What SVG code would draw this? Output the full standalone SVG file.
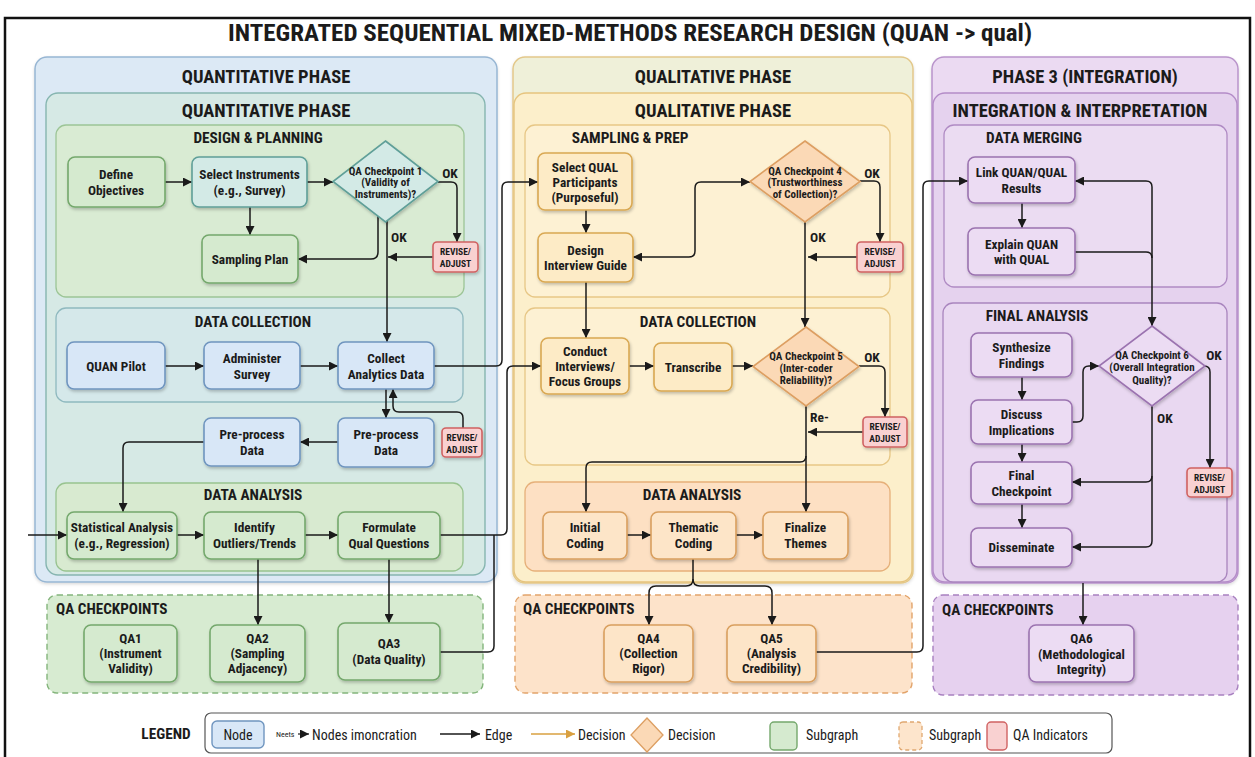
<svg xmlns="http://www.w3.org/2000/svg" width="1255" height="757" viewBox="0 0 1255 757">
  <defs>
    <style>
      .t { font-family: "Roboto Condensed", "Liberation Sans Narrow", "Arial Narrow", "DejaVu Sans Condensed", Roboto, sans-serif; font-stretch: condensed; font-weight: 700; fill: #1b1b1b; text-anchor: middle; dominant-baseline: central; }
      .lg { font-weight: 400; text-anchor: start; font-size: 14px; }
      .h0 { font-size: 23px; }
      .h1 { font-size: 18.5px; }
      .h2 { font-size: 15.3px; }
      .qa { font-size: 15.2px; text-anchor: start; }
      .n { font-size: 13.3px; }
      .d { font-size: 11px; }
      .rv { font-size: 9.5px; }
      .ok { font-size: 13.5px; }
      .okl { font-size: 13.5px; text-anchor: start; }
      .box { stroke-width: 1.6; filter: url(#sh); }
      .grp { stroke-width: 1.3; }
      .dash { stroke-dasharray: 6 4; stroke-width: 1.4; }
      .blue { fill: #d8e7f7; stroke: #6f95bf; }
      .green { fill: #d5eacf; stroke: #74a86c; }
      .teal { fill: #d3eae6; stroke: #5f9f98; }
      .yellow { fill: #fdebc6; stroke: #d9a852; }
      .peach { fill: #fde5c8; stroke: #d99f5e; }
      .orange { fill: #fbd9b6; stroke: #dd9f62; }
      .purple { fill: #ecdcf3; stroke: #9b73b0; }
      .red { fill: #f9d1d1; stroke: #d06262; }
      .edges path { fill: none; stroke: #1a1a1a; stroke-width: 1.5; stroke-linejoin: round; }
      .edges .a { marker-end: url(#ah); }
    </style>
    <marker id="ah" viewBox="0 0 10 10" refX="10" refY="5" markerWidth="9" markerHeight="9" markerUnits="userSpaceOnUse" orient="auto-start-reverse">
      <path d="M0,0 L10,5 L0,10 z" fill="#1a1a1a"/>
    </marker>
    <marker id="aho" viewBox="0 0 10 10" refX="10" refY="5" markerWidth="9" markerHeight="9" markerUnits="userSpaceOnUse" orient="auto">
      <path d="M0,0 L10,5 L0,10 z" fill="#d9a040"/>
    </marker>
    <filter id="sh" x="-15%" y="-15%" width="135%" height="145%">
      <feDropShadow dx="1" dy="2" stdDeviation="1.4" flood-color="#000" flood-opacity="0.22"/>
    </filter>
    <filter id="shg" x="-5%" y="-5%" width="110%" height="110%">
      <feDropShadow dx="0" dy="1.5" stdDeviation="1.5" flood-color="#000" flood-opacity="0.15"/>
    </filter>
  </defs>

  <rect width="1255" height="757" fill="#ffffff"/>
  <!-- page frame -->
  <path d="M5,757 V18 H1250 V757" fill="none" stroke="#111" stroke-width="2.5"/>

  <text class="t h0" x="630" y="33" textLength="804" lengthAdjust="spacingAndGlyphs">INTEGRATED SEQUENTIAL MIXED-METHODS RESEARCH DESIGN (QUAN -&gt; qual)</text>

  <!-- ===== containers ===== -->
  <g id="quant-phase">
    <rect x="35" y="57" width="462" height="525" rx="12" fill="#dce9f5" stroke="#97b6d3" stroke-width="1.5" filter="url(#shg)"/>
    <text class="t h1" x="266" y="77">QUANTITATIVE PHASE</text>
    <rect x="46" y="93" width="439" height="482" rx="12" fill="#d6e9e5" stroke="#86b5b0" stroke-width="1.4"/>
    <text class="t h1" x="266" y="111">QUANTITATIVE PHASE</text>
    <rect x="56" y="125" width="408" height="172" rx="10" fill="#d9ebd3" stroke="#9cc596" class="grp"/>
    <text class="t h2" x="258" y="138">DESIGN &amp; PLANNING</text>
    <rect x="56" y="308" width="407" height="94" rx="10" fill="#d5e8ea" stroke="#8fb9bf" class="grp"/>
    <text class="t h2" x="253" y="322">DATA COLLECTION</text>
    <rect x="56" y="483" width="407" height="88" rx="10" fill="#d8ead0" stroke="#98c38f" class="grp"/>
    <text class="t h2" x="253" y="495">DATA ANALYSIS</text>
  </g>
  <g id="quant-qa">
    <rect x="47" y="595" width="436" height="98" rx="10" fill="#d7ebd1" stroke="#84b57c" class="dash"/>
    <text class="t qa" x="56" y="609">QA CHECKPOINTS</text>
  </g>

  <g id="qual-phase">
    <rect x="513" y="57" width="400" height="526" rx="12" fill="#eff0d9" stroke="#e3c88a" stroke-width="1.5" filter="url(#shg)"/>
    <text class="t h1" x="713" y="77">QUALITATIVE PHASE</text>
    <rect x="514" y="93" width="398" height="489" rx="12" fill="#fcefcb" stroke="#e6c47e" stroke-width="1.4"/>
    <text class="t h1" x="713" y="111">QUALITATIVE PHASE</text>
    <rect x="525" y="125" width="365" height="172" rx="10" fill="#fdf1d3" stroke="#e7c786" class="grp"/>
    <text class="t h2" x="630" y="138">SAMPLING &amp; PREP</text>
    <rect x="525" y="308" width="365" height="157" rx="10" fill="#fdf1d3" stroke="#e7c786" class="grp"/>
    <text class="t h2" x="698" y="322">DATA COLLECTION</text>
    <rect x="525" y="482" width="365" height="89" rx="10" fill="#fde0c3" stroke="#e6b07a" class="grp"/>
    <text class="t h2" x="692" y="495">DATA ANALYSIS</text>
  </g>
  <g id="qual-qa">
    <rect x="515" y="595" width="397" height="98" rx="10" fill="#fde3ca" stroke="#e2a46b" class="dash"/>
    <text class="t qa" x="523" y="609">QA CHECKPOINTS</text>
  </g>

  <g id="integration-phase">
    <rect x="932" y="57" width="306" height="526" rx="12" fill="#ebdaf2" stroke="#b994cb" stroke-width="1.5" filter="url(#shg)"/>
    <text class="t h1" x="1085" y="77">PHASE 3 (INTEGRATION)</text>
    <rect x="933" y="93" width="304" height="489" rx="12" fill="#e5d2ee" stroke="#b48cc8" stroke-width="1.4"/>
    <text class="t h1" x="1080" y="111">INTEGRATION &amp; INTERPRETATION</text>
    <rect x="944" y="125" width="283" height="162" rx="10" fill="#ebdcf2" stroke="#b08bc4" class="grp"/>
    <text class="t h2" x="1034" y="138">DATA MERGING</text>
    <rect x="943" y="303" width="284" height="279" rx="10" fill="#e9d8f1" stroke="#a985be" class="grp"/>
    <text class="t h2" x="1037" y="316">FINAL ANALYSIS</text>
  </g>
  <g id="integration-qa">
    <rect x="933" y="595" width="305" height="100" rx="10" fill="#e6d1ef" stroke="#a880c0" class="dash"/>
    <text class="t qa" x="942" y="610">QA CHECKPOINTS</text>
  </g>

  <!-- ===== connectors ===== -->
  <g id="connectors" class="edges">
    <!-- quantitative -->
    <path class="a" d="M165,182 H192"/>
    <path class="a" d="M307,182 H333"/>
    <path class="a" d="M250,207 V235"/>
    <path class="a" d="M438,182 H451 Q457,182 457,188 V242"/>
    <path class="a" d="M433,257 H388"/>
    <path class="a" d="M378,216 V252 Q378,259 371,259 H298"/>
    <path class="a" d="M387,221 V342"/>
    <path class="a" d="M165,366 H204"/>
    <path class="a" d="M300,366 H338"/>
    <path class="a" d="M386,389 V418"/>
    <path class="a" d="M463,428 V418 Q463,412 457,412 H399 Q393,412 393,406 V389"/>
    <path class="a" d="M338,442 H300"/>
    <path class="a" d="M204,442 H129 Q123,442 123,448 V512"/>
    <path class="a" d="M28,535 H67"/>
    <path class="a" d="M177,535 H204"/>
    <path class="a" d="M305,535 H338"/>
    <path class="a" d="M258,559 V625"/>
    <path class="a" d="M389,559 V623"/>
    <path class="a" d="M440,535 H501 Q507,535 507,529 V372 Q507,366 513,366 H541"/>
    <path d="M440,652 H488 Q494,652 494,646 V535"/>
    <path class="a" d="M434,366 H496 Q502,366 502,360 V188 Q502,182 508,182 H538"/>
    <!-- qualitative -->
    <path class="a" d="M586,210 V233"/>
    <path class="a" d="M633,257 H689 Q695,257 695,251 V188 Q695,182 701,182 H750" marker-start="url(#ah)"/>
    <path class="a" d="M860,181 H874 Q880,181 880,187 V242"/>
    <path class="a" d="M857,257 H808"/>
    <path class="a" d="M805,222 V327"/>
    <path class="a" d="M586,282 V338"/>
    <path class="a" d="M629,366 H654"/>
    <path class="a" d="M732,366 H753"/>
    <path class="a" d="M859,366 H879 Q885,366 885,372 V417"/>
    <path class="a" d="M863,432 H808"/>
    <path class="a" d="M806,406 V512"/>
    <path class="a" d="M806,456 Q806,462 800,462 H592 Q586,462 586,468 V512"/>
    <path class="a" d="M627,535 H651"/>
    <path class="a" d="M736,535 H763"/>
    <path class="a" d="M693,559 V579 Q693,586 686,586 H656 Q649,586 649,593 V625"/>
    <path class="a" d="M693,579 Q693,586 700,586 H765 Q772,586 772,593 V625"/>
    <path class="a" d="M816,652 H917 Q923,652 923,646 V187 Q923,181 929,181 H968"/>
    <!-- integration -->
    <path class="a" d="M1022,203 V228"/>
    <path class="a" d="M1075,252 H1146 Q1152,252 1152,258 V326"/>
    <path class="a" d="M1152,258 V187 Q1152,181 1146,181 H1075"/>
    <path class="a" d="M1022,377 V400"/>
    <path class="a" d="M1022,444 V462"/>
    <path class="a" d="M1022,504 V528"/>
    <path class="a" d="M1072,422 H1077 Q1083,422 1083,416 V372 Q1083,366 1089,366 H1099"/>
    <path class="a" d="M1204,366 Q1210,366 1210,372 V468"/>
    <path class="a" d="M1152,406 V476 Q1152,482 1146,482 H1072"/>
    <path class="a" d="M1152,476 V541 Q1152,547 1146,547 H1072"/>
    <path class="a" d="M1083,583 V625"/>
  </g>

  <!-- edge labels -->
  <g id="edge-labels">
    <text class="t ok" x="450" y="173">OK</text>
    <text class="t okl" x="391" y="237">OK</text>
    <text class="t ok" x="872" y="173">OK</text>
    <text class="t okl" x="810" y="237">OK</text>
    <text class="t ok" x="872" y="357">OK</text>
    <text class="t okl" x="810" y="417">Re-</text>
    <text class="t ok" x="1214" y="355">OK</text>
    <text class="t okl" x="1157" y="418">OK</text>
  </g>

  <!-- ===== quantitative nodes ===== -->
  <g id="define-objectives"><rect class="box green" x="68" y="157" width="97" height="50" rx="7"/>
    <text class="t n" x="116" y="174">Define</text><text class="t n" x="116" y="190">Objectives</text></g>
  <g id="select-instruments"><rect class="box teal" x="192" y="157" width="115" height="50" rx="7"/>
    <text class="t n" x="249.5" y="174">Select Instruments</text><text class="t n" x="249.5" y="190">(e.g., Survey)</text></g>
  <g id="qa-checkpoint-1"><polygon class="box teal" points="385.5,141 438,181.5 385.5,222 333,181.5"/>
    <text class="t d" x="385.5" y="171">QA Checkpoint 1</text><text class="t d" x="385.5" y="182.5">(Validity of</text><text class="t d" x="385.5" y="194">Instruments)?</text></g>
  <g id="sampling-plan"><rect class="box green" x="202" y="235" width="96" height="48" rx="7"/>
    <text class="t n" x="250" y="259">Sampling Plan</text></g>
  <g id="revise-1"><rect class="box red" x="433" y="242" width="45" height="30" rx="4"/>
    <text class="t rv" x="455.5" y="251">REVISE/</text><text class="t rv" x="455.5" y="263">ADJUST</text></g>

  <g id="quan-pilot"><rect class="box blue" x="67" y="342" width="98" height="47" rx="7"/>
    <text class="t n" x="116" y="366">QUAN Pilot</text></g>
  <g id="administer-survey"><rect class="box blue" x="204" y="342" width="96" height="47" rx="7"/>
    <text class="t n" x="252" y="358">Administer</text><text class="t n" x="252" y="374">Survey</text></g>
  <g id="collect-analytics"><rect class="box blue" x="338" y="342" width="96" height="47" rx="7"/>
    <text class="t n" x="386" y="358">Collect</text><text class="t n" x="386" y="374">Analytics Data</text></g>
  <g id="preprocess-b"><rect class="box blue" x="338" y="418" width="96" height="49" rx="7"/>
    <text class="t n" x="386" y="434">Pre-process</text><text class="t n" x="386" y="450">Data</text></g>
  <g id="revise-2"><rect class="box red" x="442" y="428" width="40" height="29" rx="4"/>
    <text class="t rv" x="462" y="437">REVISE/</text><text class="t rv" x="462" y="449">ADJUST</text></g>
  <g id="preprocess-a"><rect class="box blue" x="204" y="418" width="96" height="48" rx="7"/>
    <text class="t n" x="252" y="434">Pre-process</text><text class="t n" x="252" y="450">Data</text></g>

  <g id="statistical-analysis"><rect class="box green" x="67" y="512" width="110" height="47" rx="7"/>
    <text class="t n" x="122" y="527">Statistical Analysis</text><text class="t n" x="122" y="543">(e.g., Regression)</text></g>
  <g id="identify-outliers"><rect class="box green" x="204" y="512" width="101" height="47" rx="7"/>
    <text class="t n" x="254.5" y="527">Identify</text><text class="t n" x="254.5" y="543">Outliers/Trends</text></g>
  <g id="formulate-questions"><rect class="box green" x="338" y="512" width="102" height="47" rx="7"/>
    <text class="t n" x="389" y="527">Formulate</text><text class="t n" x="389" y="543">Qual Questions</text></g>

  <g id="qa1"><rect class="box green" x="84" y="625" width="93" height="57" rx="7"/>
    <text class="t n" x="130.5" y="638">QA1</text><text class="t n" x="130.5" y="653">(Instrument</text><text class="t n" x="130.5" y="668">Validity)</text></g>
  <g id="qa2"><rect class="box green" x="210" y="625" width="95" height="57" rx="7"/>
    <text class="t n" x="257.5" y="638">QA2</text><text class="t n" x="257.5" y="653">(Sampling</text><text class="t n" x="257.5" y="668">Adjacency)</text></g>
  <g id="qa3"><rect class="box green" x="338" y="623" width="102" height="57" rx="7"/>
    <text class="t n" x="389" y="643">QA3</text><text class="t n" x="389" y="659">(Data Quality)</text></g>

  <!-- ===== qualitative nodes ===== -->
  <g id="select-participants"><rect class="box yellow" x="538" y="153" width="94" height="57" rx="7"/>
    <text class="t n" x="585" y="167">Select QUAL</text><text class="t n" x="585" y="182">Participants</text><text class="t n" x="585" y="197">(Purposeful)</text></g>
  <g id="design-guide"><rect class="box yellow" x="538" y="233" width="95" height="49" rx="7"/>
    <text class="t n" x="585.5" y="250">Design</text><text class="t n" x="585.5" y="265">Interview Guide</text></g>
  <g id="qa-checkpoint-4"><polygon class="box orange" points="805,141 860,181.5 805,222 750,181.5"/>
    <text class="t d" x="805" y="171">QA Checkpoint 4</text><text class="t d" x="805" y="182.5">(Trustworthiness</text><text class="t d" x="805" y="194">of Collection)?</text></g>
  <g id="revise-4"><rect class="box red" x="857" y="242" width="46" height="30" rx="4"/>
    <text class="t rv" x="880" y="251">REVISE/</text><text class="t rv" x="880" y="263">ADJUST</text></g>

  <g id="conduct-interviews"><rect class="box yellow" x="541" y="338" width="88" height="56" rx="7"/>
    <text class="t n" x="585" y="351">Conduct</text><text class="t n" x="585" y="366">Interviews/</text><text class="t n" x="585" y="381">Focus Groups</text></g>
  <g id="transcribe"><rect class="box yellow" x="654" y="343" width="78" height="48" rx="7"/>
    <text class="t n" x="693" y="367">Transcribe</text></g>
  <g id="qa-checkpoint-5"><polygon class="box orange" points="806,327 859,366.5 806,406 753,366.5"/>
    <text class="t d" x="806" y="356">QA Checkpoint 5</text><text class="t d" x="806" y="368">(Inter-coder</text><text class="t d" x="806" y="380">Reliability)?</text></g>
  <g id="revise-5"><rect class="box red" x="863" y="417" width="44" height="30" rx="4"/>
    <text class="t rv" x="885" y="426">REVISE/</text><text class="t rv" x="885" y="438">ADJUST</text></g>

  <g id="initial-coding"><rect class="box peach" x="543" y="512" width="84" height="47" rx="7"/>
    <text class="t n" x="585" y="527">Initial</text><text class="t n" x="585" y="543">Coding</text></g>
  <g id="thematic-coding"><rect class="box peach" x="651" y="512" width="85" height="47" rx="7"/>
    <text class="t n" x="693.5" y="527">Thematic</text><text class="t n" x="693.5" y="543">Coding</text></g>
  <g id="finalize-themes"><rect class="box peach" x="763" y="512" width="85" height="47" rx="7"/>
    <text class="t n" x="805.5" y="527">Finalize</text><text class="t n" x="805.5" y="543">Themes</text></g>

  <g id="qa4"><rect class="box peach" x="604" y="625" width="89" height="57" rx="7"/>
    <text class="t n" x="648.5" y="638">QA4</text><text class="t n" x="648.5" y="653">(Collection</text><text class="t n" x="648.5" y="668">Rigor)</text></g>
  <g id="qa5"><rect class="box peach" x="727" y="625" width="89" height="57" rx="7"/>
    <text class="t n" x="771.5" y="638">QA5</text><text class="t n" x="771.5" y="653">(Analysis</text><text class="t n" x="771.5" y="668">Credibility)</text></g>

  <!-- ===== integration nodes ===== -->
  <g id="link-results"><rect class="box purple" x="968" y="157" width="107" height="46" rx="7"/>
    <text class="t n" x="1021.5" y="172">Link QUAN/QUAL</text><text class="t n" x="1021.5" y="188">Results</text></g>
  <g id="explain-quan"><rect class="box purple" x="968" y="228" width="107" height="47" rx="7"/>
    <text class="t n" x="1021.5" y="244">Explain QUAN</text><text class="t n" x="1021.5" y="259">with QUAL</text></g>
  <g id="synthesize-findings"><rect class="box purple" x="971" y="333" width="101" height="44" rx="7"/>
    <text class="t n" x="1021.5" y="347">Synthesize</text><text class="t n" x="1021.5" y="363">Findings</text></g>
  <g id="discuss-implications"><rect class="box purple" x="971" y="400" width="101" height="44" rx="7"/>
    <text class="t n" x="1021.5" y="414">Discuss</text><text class="t n" x="1021.5" y="430">Implications</text></g>
  <g id="final-checkpoint"><rect class="box purple" x="971" y="462" width="101" height="42" rx="7"/>
    <text class="t n" x="1021.5" y="475">Final</text><text class="t n" x="1021.5" y="491">Checkpoint</text></g>
  <g id="disseminate"><rect class="box purple" x="971" y="528" width="101" height="39" rx="7"/>
    <text class="t n" x="1021.5" y="547.5">Disseminate</text></g>
  <g id="qa-checkpoint-6"><polygon class="box purple" points="1152,326 1205,366 1152,406 1099,366"/>
    <text class="t d" x="1152" y="355">QA Checkpoint 6</text><text class="t d" x="1152" y="367.5">(Overall Integration</text><text class="t d" x="1152" y="380">Quality)?</text></g>
  <g id="revise-6"><rect class="box red" x="1187" y="468" width="45" height="29" rx="4"/>
    <text class="t rv" x="1209.5" y="477">REVISE/</text><text class="t rv" x="1209.5" y="489">ADJUST</text></g>
  <g id="qa6"><rect class="box purple" x="1029" y="625" width="105" height="57" rx="7"/>
    <text class="t n" x="1081.5" y="638">QA6</text><text class="t n" x="1081.5" y="654">(Methodological</text><text class="t n" x="1081.5" y="669">Integrity)</text></g>

  <!-- ===== legend ===== -->
  <g id="legend">
    <text class="t h2" x="166" y="734">LEGEND</text>
    <rect x="205" y="713" width="907" height="40" rx="6" fill="#ffffff" stroke="#555" stroke-width="1.2"/>
    <rect class="blue" x="212" y="721" width="52" height="27" rx="5" stroke-width="1.4"/>
    <text class="t lg" x="238" y="734.5" style="text-anchor:middle">Node</text>
    <text class="t lg" x="276" y="734" style="font-size:8px">Neets</text>
    <path d="M298,734 H309" stroke="#1a1a1a" stroke-width="1.2" marker-end="url(#ah)"/>
    <text class="t lg" x="312" y="734.5">Nodes imoncration</text>
    <path d="M440,734 H480" stroke="#1a1a1a" stroke-width="1.6" marker-end="url(#ah)"/>
    <text class="t lg" x="485" y="734.5">Edge</text>
    <path d="M531,734 H575" stroke="#d9a040" stroke-width="1.6" marker-end="url(#aho)"/>
    <text class="t lg" x="578" y="734.5">Decision</text>
    <polygon class="orange" points="647,718 663,735 647,752 631,735" stroke-width="1.3"/>
    <text class="t lg" x="668" y="734.5">Decision</text>
    <rect class="green" x="770" y="722" width="27" height="28" rx="4" stroke-width="1.4"/>
    <text class="t lg" x="806" y="734.5">Subgraph</text>
    <rect x="899" y="722" width="23" height="28" rx="4" fill="#fde5cc" stroke="#e0a870" stroke-width="1.3" stroke-dasharray="4 3"/>
    <text class="t lg" x="929" y="734.5">Subgraph</text>
    <rect class="red" x="987" y="722" width="20" height="28" rx="4" stroke-width="1.4"/>
    <text class="t lg" x="1013" y="734.5">QA Indicators</text>
  </g>
</svg>
